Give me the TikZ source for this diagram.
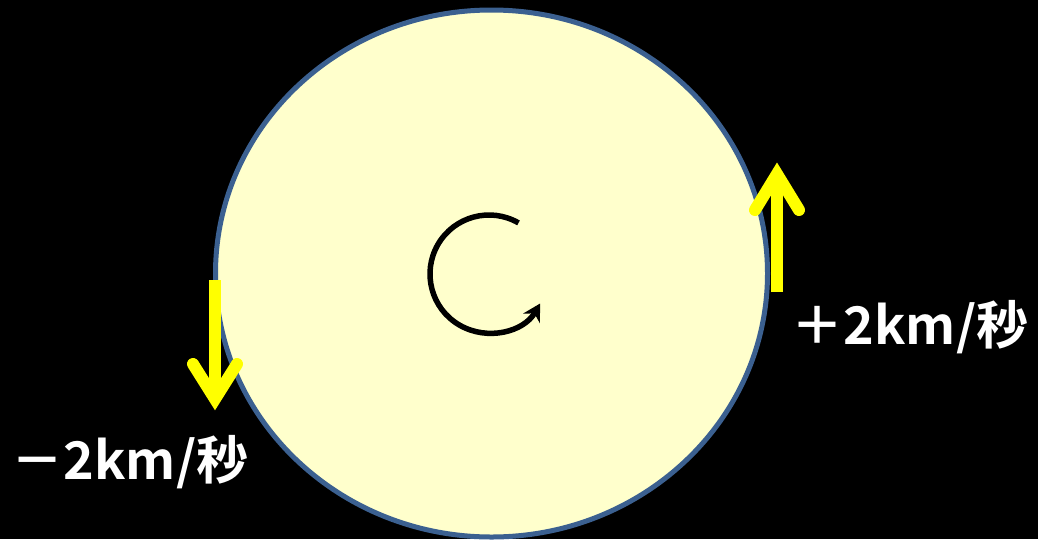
\documentclass[tikz,border=0pt]{standalone}
\usepackage{fontspec}
\newfontfamily\cjk{Noto Sans CJK JP Bold}
\usetikzlibrary{arrows.meta,shapes.geometric}
\definecolor{pale}{HTML}{FFFFCC}
\definecolor{rim}{HTML}{3B6090}
\definecolor{yel}{HTML}{FFFF00}
\tikzset{
  shaft/.style={draw=yel, line width=12},
  barb/.style={draw=yel, line width=12, line cap=round, line join=miter},
  lab/.style={text=white, font=\cjk\fontsize{52}{62}\selectfont, inner sep=0, anchor=base}
}
\begin{document}
\begin{tikzpicture}[x=1pt,y=-1pt]
\fill[black] (0,0) rectangle (1038,539);
\useasboundingbox (0,0) rectangle (1038,539);
\node[ellipse, draw=rim, line width=5, fill=pale, minimum width=552, minimum height=527, inner sep=0] (disk) at (491.5,273.5) {};
\coordinate (c) at (489,274);
\draw[line width=5.5, -{Stealth[length=17, width=19]}] ([shift={(-60:59)}]c) arc[start angle=-60, end angle=-330, radius=59];
% right arrow
\coordinate (rb) at (777,292);
\coordinate (rt) at (777,174);
\draw[shaft] (rb) -- (rt);
\draw[barb] (755,210) -- (rt) -- (799,210);
% left arrow
\coordinate (lt) at (215,280);
\coordinate (lb) at (215,399);
\draw[shaft] (lt) -- (lb);
\draw[barb] (193,364) -- (lb) -- (237,364);
\node[lab] (rl) at (910,344) {＋2km/秒};
\node[lab] (ll) at (130,479) {－2km/秒};
\end{tikzpicture}
\end{document}
